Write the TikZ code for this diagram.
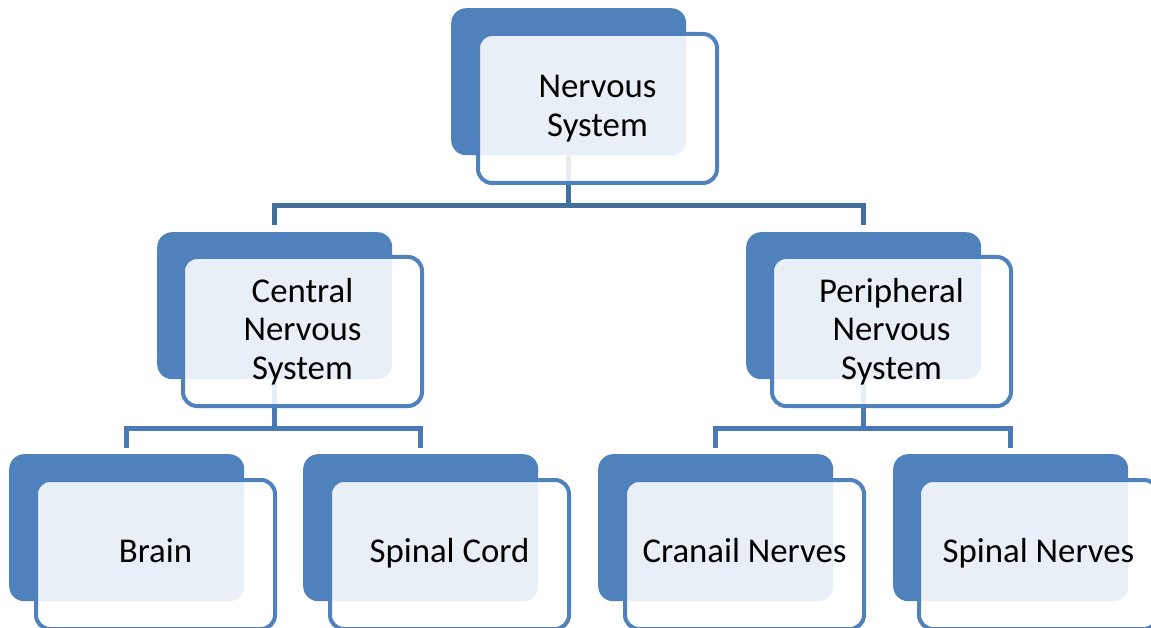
\documentclass[tikz,border=0pt]{standalone}
\usepackage{fontspec}
\setmainfont{Carlito}
\usetikzlibrary{backgrounds}
\definecolor{boxblue}{HTML}{4F81BD}
\definecolor{connA}{HTML}{41709F}
\definecolor{connB}{HTML}{4A79B3}
\tikzset{
  backbox/.style={rectangle, rounded corners=15pt, fill=boxblue, draw=none,
    minimum width=235pt, minimum height=147pt, inner sep=0pt, anchor=north west},
  frontbox/.style={rectangle, rounded corners=14pt, draw=boxblue, line width=4pt,
    fill=white, fill opacity=0.88, text opacity=1, text=black,
    minimum width=239pt, minimum height=149pt, inner sep=0pt, align=center,
    font=\fontsize{34.8}{38.5}\selectfont, anchor=north west},
  oneline/.style={text height=24pt, text depth=8pt},
  connone/.style={line width=5pt, draw=connA, shorten >=7pt},
  conntwo/.style={line width=5pt, draw=connB, shorten >=6pt},
}
\begin{document}
\begin{tikzpicture}[x=1pt,y=-1pt]
\useasboundingbox (0,0) rectangle (1151,628);
% back boxes
\node[backbox] (topB)   at (451,8)   {};
\node[backbox] (cnsB)   at (157,232) {};
\node[backbox] (pnsB)   at (746,232) {};
\node[backbox] (brainB) at (9,454)   {};
\node[backbox] (cordB)  at (303,454) {};
\node[backbox] (cranB)  at (598,454) {};
\node[backbox] (spnB)   at (893,454) {};
% front boxes
\node[frontbox] (top)   at (476,32)  {Nervous\\System};
\node[frontbox] (cns)   at (181,255) {Central\\Nervous\\System};
\node[frontbox] (pns)   at (770,255) {Peripheral\\Nervous\\System};
\node[frontbox,oneline] (brain) at (34,478)  {Brain};
\node[frontbox,oneline] (cord)  at (328,478) {Spinal Cord};
\node[frontbox,oneline] (cran)  at (623,478) {Cranail Nerves};
\node[frontbox,oneline] (spn)   at (917,478) {Spinal Nerves};
% connectors
\coordinate (ya) at (0,206);
\coordinate (yb) at (0,428);
\begin{pgfonlayer}{background}
\draw[connone] (topB.south) -- (topB.south |- ya) -| (cnsB.north);
\draw[connone] (topB.south |- ya) -| (pnsB.north);
\draw[conntwo] (cnsB.south) -- (cnsB.south |- yb) -| (brainB.north);
\draw[conntwo] (cnsB.south |- yb) -| (cordB.north);
\draw[conntwo] (pnsB.south) -- (pnsB.south |- yb) -| (cranB.north);
\draw[conntwo] (pnsB.south |- yb) -| (spnB.north);
\end{pgfonlayer}
\end{tikzpicture}
\end{document}
